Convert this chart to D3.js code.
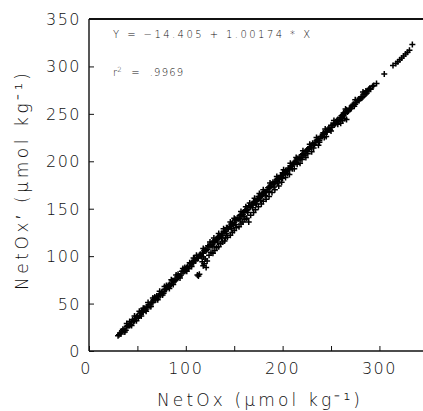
<!DOCTYPE html>
<html>
<head>
<meta charset="utf-8">
<script src="https://cdn.jsdelivr.net/npm/d3@7"></script>
<style>
  body { margin: 0; background: #fff; }
  svg { display: block; }
  text { font-family: "DejaVu Sans", "Liberation Sans", sans-serif; font-weight: 200; fill: #111; }
</style>
</head>
<body>
<svg id="chart" width="423" height="411"></svg>
<script>
// NetOx (x) vs NetOx' (y)
const netOx = [
  30,32,33,35,36,38,40,41,43,45,46,48,50,51,53,55,57,58,60,62,63,65,67,69,70,72,74,75,77,79,
  81,82,84,86,88,89,91,93,95,96,98,100,102,103,105,107,109,110,112,114,116,117,119,121,123,124,126,128,130,131,
  133,135,137,138,140,142,144,145,147,149,151,152,154,156,158,160,161,163,165,167,168,170,172,174,175,177,179,181,183,184,
  186,188,190,191,193,195,197,199,200,202,204,206,207,209,211,213,215,216,218,220,222,224,225,227,229,231,232,234,236,238,
  240,242,243,245,247,249,250,252,254,256,258,260,262,264,266,268,270,272,274,276,278,280,282,284,286,288,290,
  // second pass along the line
  31,34,37,39,42,44,47,49,52,54,56,59,61,64,66,68,71,73,76,78,80,83,85,87,90,92,94,97,99,101,
  104,106,108,111,113,115,118,120,122,125,127,129,132,134,136,139,141,143,146,148,150,153,155,157,159,162,164,166,169,171,
  173,176,178,180,182,185,187,189,192,194,196,198,201,203,205,208,210,212,214,217,219,221,223,226,228,230,233,235,237,239,
  241,244,246,248,251,253,255,257,259,261,263,265,267,269,271,273,275,277,279,281,283,285,287,289,291,294,
  // upper edge of band
  42,56,68,80,92,99,104,108,111,118,125,129,134,139,146,150,157,162,166,171,176,180,187,194,201,208,214,221,228,235,244,253,265,275,283,
  39,47,52,61,66,73,78,85,90,97,
  // lower edge of band
  37,44,49,54,59,64,71,76,83,87,94,101,106,
  128,133,137,142,147,151,156,160,164,169,173,177,182,186,191,195,200,205,210,215,220,226,232,238,243,
  // points below the line
  112,113,114,117,118,119,120,121,122,116,118,124,126,128,130,132,134,136,138,140,141,143,146,148,150,152,155,157,159,161,
  163,165,167,170,172,175,178,180,183,186,189,192,196,199,203,207,212,218,224,230,237,245,250,257,260,262,264,261,263,266,
  // sparse top end
  286,293,297,305,314,317,319,321,323,325,327,329,331,334
];
const netOxPrime = [
  16,19,18,23,22,22,27,27,28,33,31,34,37,35,40,41,45,43,46,49,47,51,54,54,58,58,59,62,61,65,
  67,69,69,74,74,74,78,79,80,84,84,85,89,87,92,93,97,95,98,101,100,103,106,106,111,110,111,115,114,117,
  120,120,124,122,126,130,129,131,134,133,139,138,139,143,142,146,148,148,153,152,154,157,156,160,163,163,164,168,167,170,
  173,174,178,176,179,182,181,185,188,188,189,193,191,195,198,199,203,202,203,207,206,210,212,213,215,219,217,220,223,222,
  226,230,229,231,234,233,238,238,239,243,242,246,249,250,254,253,255,259,258,262,265,266,267,271,271,274,277,
  17,21,22,26,27,31,32,36,37,41,41,46,46,51,51,55,56,60,61,65,65,70,70,74,75,79,79,84,84,88,
  89,93,93,98,98,102,103,107,107,112,112,116,117,121,121,126,126,130,131,135,135,140,140,144,144,149,149,153,154,158,
  158,163,163,167,167,172,172,176,177,181,181,185,186,190,190,195,195,199,199,204,204,208,208,213,213,217,218,222,222,226,
  226,231,231,235,236,240,240,244,244,248,248,252,252,256,256,260,260,264,264,268,268,272,272,276,276,280,
  31,45,57,69,81,88,93,98,101,108,115,119,124,129,136,140,147,152,156,161,166,170,177,184,191,198,204,211,218,225,234,243,255,265,273,
  29,37,42,51,56,63,68,75,80,87,
  20,27,32,37,42,47,54,59,66,70,77,84,89,
  110,115,119,124,129,133,138,142,146,151,155,159,164,168,173,177,182,187,192,197,202,208,214,220,225,
  80,79,81,94,90,92,97,88,95,100,99,101,104,103,106,109,110,113,115,116,119,120,122,125,127,130,131,134,136,139,
  140,136,143,146,149,152,155,158,160,163,167,170,174,178,183,186,192,198,204,210,217,226,232,239,240,243,245,248,251,244,
  274,279,282,292,301,303,305,307,309,311,313,315,317,323
];
const xTicks = [0, 100, 200, 300];
const xTickMarks = [0, 50, 100, 150, 200, 250, 300];
const yTicks = [0, 50, 100, 150, 200, 250, 300, 350];

const svg = d3.select("#chart");
const margin = { top: 19, right: 0, bottom: 60, left: 89 };
const width = +svg.attr("width");
const height = +svg.attr("height");

const x = d3.scaleLinear().domain([0, 345]).range([margin.left, width - margin.right]);
const y = d3.scaleLinear().domain([0, 350]).range([height - margin.bottom, margin.top]);

// points as small plus signs
svg.append("g")
  .selectAll("path")
  .data(netOx.map((v, i) => [v, netOxPrime[i]]))
  .enter().append("path")
  .attr("transform", d => `translate(${x(d[0])},${y(d[1])})`)
  .attr("d", "M-3,0H3M0,-3V3")
  .attr("stroke", "#000")
  .attr("stroke-width", 1.5)
  .attr("fill", "none");

// frame lines
const axisColor = "#111";
svg.append("line")
  .attr("x1", x(0)).attr("x2", width).attr("y1", y(0)).attr("y2", y(0))
  .attr("stroke", axisColor).attr("stroke-width", 1.5);
svg.append("line")
  .attr("x1", x(0)).attr("x2", x(0)).attr("y1", y(0)).attr("y2", y(350))
  .attr("stroke", "#444").attr("stroke-width", 1.8);
svg.append("line")
  .attr("x1", x(0)).attr("x2", width).attr("y1", y(350)).attr("y2", y(350))
  .attr("stroke", axisColor).attr("stroke-width", 2);

// ticks pointing inside
const xAxis = svg.append("g")
  .attr("transform", `translate(0,${y(0)})`)
  .call(d3.axisBottom(x).tickValues(xTickMarks).tickSize(-5).tickFormat(""));
xAxis.select(".domain").remove();
xAxis.selectAll("line").attr("stroke", axisColor);

const yAxis = svg.append("g")
  .attr("transform", `translate(${x(0)},0)`)
  .call(d3.axisLeft(y).tickValues(yTicks).tickSize(-5).tickFormat(""));
yAxis.select(".domain").remove();
yAxis.selectAll("line").attr("stroke", axisColor);

// tick labels
svg.append("g").selectAll("text")
  .data(xTicks).enter().append("text")
  .attr("x", d => d === 0 ? x(d) - 3 : x(d))
  .attr("y", y(0) + 23)
  .attr("text-anchor", "middle")
  .attr("font-size", 16)
  .attr("letter-spacing", 1.5)
  .text(d => d);

svg.append("g").selectAll("text")
  .data(yTicks).enter().append("text")
  .attr("x", x(0) - 8)
  .attr("y", d => y(d) + 6)
  .attr("text-anchor", "end")
  .attr("font-size", 16)
  .attr("letter-spacing", 1.5)
  .text(d => d);

// axis titles
svg.append("text")
  .attr("x", 157)
  .attr("y", 406)
  .attr("font-size", 17)
  .attr("textLength", 203)
  .attr("lengthAdjust", "spacing")
  .text("NetOx (μmol kg⁻¹)");

svg.append("text")
  .attr("transform", `translate(28,290) rotate(-90)`)
  .attr("font-size", 17)
  .attr("textLength", 217)
  .attr("lengthAdjust", "spacing")
  .text("NetOx′ (μmol kg⁻¹)");

// regression annotation
svg.append("text")
  .attr("x", 113).attr("y", 38)
  .attr("font-size", 10)
  .attr("font-weight", 400)
  .attr("textLength", 197)
  .attr("lengthAdjust", "spacing")
  .attr("xml:space", "preserve")
  .text("Y = −14.405 + 1.00174 * X");

const r2 = svg.append("text")
  .attr("x", 113).attr("y", 76)
  .attr("font-size", 10)
  .attr("font-weight", 400)
  .attr("xml:space", "preserve");
r2.append("tspan").text("r");
r2.append("tspan").attr("dy", -4).attr("font-size", 7).text("2");
r2.append("tspan").attr("dy", 4).attr("dx", 1).attr("letter-spacing", 1.2).text("  =  .9969");
</script>
</body>
</html>
